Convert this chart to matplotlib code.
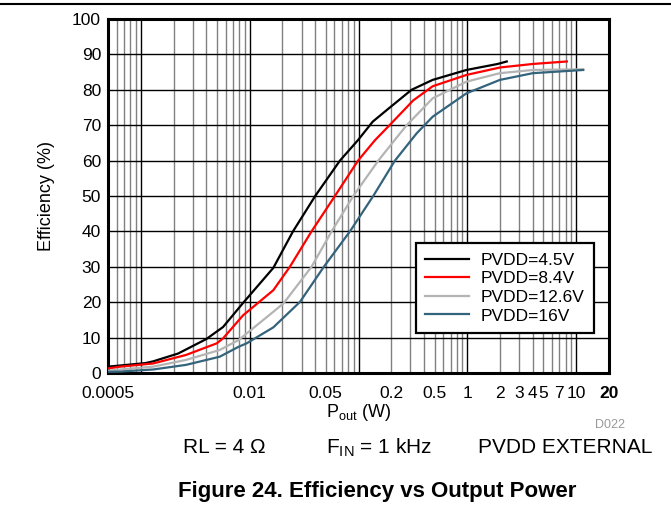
import matplotlib
matplotlib.use("Agg")
import matplotlib.pyplot as plt
import numpy as np

plt.rcParams['font.family'] = ['Liberation Sans', 'DejaVu Sans']
plt.rcParams['mathtext.fontset'] = 'custom'
plt.rcParams['mathtext.rm'] = 'Liberation Sans'

# curves: output power (W) vs efficiency (%)
p_45 = [0.0005, 0.0011, 0.0013, 0.0022, 0.004, 0.0057, 0.0087, 0.0165, 0.025,
        0.040, 0.0675, 0.099, 0.135, 0.194, 0.307, 0.48, 0.98, 1.9, 2.3]
eff_45 = [1.8, 2.8, 3.3, 5.5, 9.6, 13.0, 19.8, 29.7, 40.0,
          50.0, 60.0, 65.8, 71.0, 75.0, 80.0, 82.8, 85.6, 87.3, 88.0]

p_84 = [0.0005, 0.00065, 0.0013, 0.0026, 0.005, 0.0057, 0.0087, 0.0165, 0.0234,
        0.037, 0.0607, 0.099, 0.142, 0.19, 0.318, 0.48, 0.98, 1.99, 4.0, 8.2]
eff_84 = [1.3, 1.8, 2.7, 5.1, 8.4, 9.8, 16.3, 23.4, 30.0,
          40.0, 50.0, 60.0, 65.8, 69.8, 77.0, 81.0, 84.2, 86.3, 87.3, 88.0]

p_126 = [0.0005, 0.00065, 0.0013, 0.0026, 0.0053, 0.0079, 0.0165, 0.0205, 0.037,
         0.0566, 0.0895, 0.152, 0.224, 0.277, 0.48, 0.98, 1.99, 4.0, 11.6]
eff_126 = [0.65, 1.0, 1.8, 3.7, 6.5, 9.3, 17.3, 19.7, 30.0,
           40.0, 50.0, 60.0, 66.5, 70.0, 77.6, 82.3, 84.7, 85.6, 85.8]

p_16 = [0.0005, 0.00065, 0.0013, 0.0026, 0.0053, 0.0079, 0.0094, 0.0165, 0.029,
        0.048, 0.0834, 0.1365, 0.216, 0.342, 0.48, 0.98, 1.99, 4.0, 11.6]
eff_16 = [0.35, 0.4, 1.0, 2.3, 4.6, 7.4, 8.4, 12.9, 20.1,
          30.0, 40.0, 50.0, 60.0, 67.7, 72.4, 79.0, 82.8, 84.7, 85.6]

series = [
    ("PVDD=4.5V", p_45, eff_45, "black"),
    ("PVDD=8.4V", p_84, eff_84, "#ff0000"),
    ("PVDD=12.6V", p_126, eff_126, "#b4b4b4"),
    ("PVDD=16V", p_16, eff_16, "#34637c"),
]

x_ticks = [0.0005, 0.01, 0.05, 0.2, 0.5, 1, 2, 3, 4, 5, 7, 10, 20]
x_tick_labels = ["0.0005", "0.01", "0.05", "0.2", "0.5", "1", "2", "3", "4", "5", "7", "10", "20"]
y_ticks = list(range(0, 101, 10))

fig = plt.figure(figsize=(6.71, 5.08), dpi=100)
ax = fig.add_axes([0.161, 0.2657, 0.7466, 0.6969])

ax.set_xscale("log")
ax.set_xlim(0.0005, 20)
ax.set_ylim(0, 100)

# log grid: grey minors, black decades
minor_lines = [m * 10.0 ** e for e in range(-4, 2) for m in range(2, 10)]
minor_lines = [v for v in minor_lines if 0.0005 < v < 20]
for v in minor_lines:
    ax.axvline(v, color="#808080", lw=1.0, zorder=1)
for v in [0.001, 0.01, 0.1, 1, 10]:
    ax.axvline(v, color="black", lw=1.0, zorder=1.5)
for v in y_ticks[1:-1]:
    ax.axhline(v, color="black", lw=1.0, zorder=1.5)

for label, p, eff, col in series:
    ax.plot(p, eff, color=col, lw=1.6, label=label, zorder=3)

ax.set_xticks(x_ticks)
ax.set_xticklabels(x_tick_labels)
ax.xaxis.set_minor_locator(matplotlib.ticker.NullLocator())
ax.set_yticks(y_ticks)
ax.tick_params(axis="both", length=0, labelsize=12.5)
ax.tick_params(axis="x", pad=9)
ax.tick_params(axis="y", pad=5)
ax.get_xticklabels()[-1].set_fontweight("bold")

for s in ax.spines.values():
    s.set_linewidth(2.2)

ax.set_xlabel(r"P$_\mathregular{out}$ (W)", fontsize=13, labelpad=1)
ax.set_ylabel("Efficiency (%)", fontsize=13, labelpad=12)

leg = ax.legend(loc="center", bbox_to_anchor=(0.619, 0.099, 0.347, 0.282),
                fontsize=12.5, frameon=True, fancybox=False, handlelength=2.5,
                borderpad=0.55, labelspacing=0.2, handletextpad=0.7)
leg.get_frame().set_edgecolor("black")
leg.get_frame().set_linewidth(1.6)
leg.get_frame().set_alpha(1)
leg.set_zorder(5)

fig.text(0.932, 0.158, "D022", fontsize=9, color="#999999", ha="right")
fig.text(0.273, 0.108, "RL = 4 \u03a9", fontsize=15)
fig.text(0.486, 0.108, r"F$_\mathregular{IN}$ = 1 kHz", fontsize=15)
fig.text(0.713, 0.108, "PVDD EXTERNAL", fontsize=15)
fig.text(0.562, 0.021, "Figure 24. Efficiency vs Output Power", fontsize=16,
         fontweight="bold", ha="center")

fig.add_artist(plt.Line2D([0, 1], [0.992, 0.992], color="black", lw=1.5))

fig.savefig("out.png", dpi=100)
